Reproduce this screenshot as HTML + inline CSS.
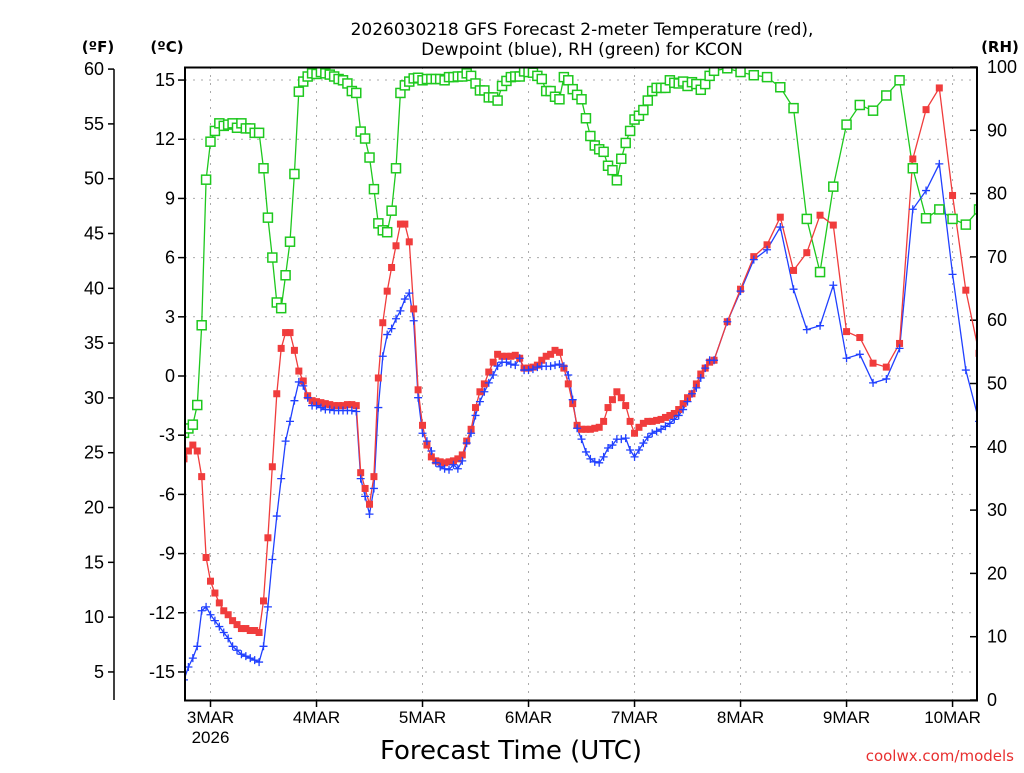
<!DOCTYPE html>
<html><head><meta charset="utf-8"><style>
body{margin:0;background:#fff;}
svg text{font-family:"DejaVu Sans","Liberation Sans",sans-serif;}
svg text.tick{font-family:"Liberation Sans",sans-serif;}
</style></head><body>
<svg id="chart" width="1024" height="768" viewBox="0 0 1024 768" xmlns="http://www.w3.org/2000/svg">
<rect width="1024" height="768" fill="#fff"/>
<text x="582" y="35" font-size="17" text-anchor="middle">2026030218 GFS Forecast 2-meter Temperature (red),</text>
<text x="582" y="55" font-size="17" text-anchor="middle">Dewpoint (blue), RH (green) for KCON</text>
<text x="98" y="52" font-size="15" font-weight="bold" text-anchor="middle">(ºF)</text>
<text x="167" y="52" font-size="15" font-weight="bold" text-anchor="middle">(ºC)</text>
<text x="1000" y="52" font-size="15" font-weight="bold" text-anchor="middle">(RH)</text>
<text x="511" y="759" font-size="26" text-anchor="middle">Forecast Time (UTC)</text>
<text x="1014" y="761" font-size="15" fill="#e83030" text-anchor="end">coolwx.com/models</text>
<g id="grid"></g>
<g id="axes"></g>
<g id="series" clip-path="url(#clip)"></g>
<defs><clipPath id="clip"><rect x="185" y="67" width="793" height="634"/></clipPath></defs>
<rect x="185" y="67.5" width="792" height="633" fill="none" stroke="#000" stroke-width="2"/>
</svg>
<script>
const tempC = [-4.2,-3.8,-3.5,-3.8,-5.1,-9.2,-10.4,-11.0,-11.5,-11.9,-12.1,-12.4,-12.6,-12.8,-12.8,-12.9,-12.9,-13.0,-11.4,-8.2,-4.6,-0.9,1.4,2.2,2.2,1.3,0.25,-0.25,-1.0,-1.25,-1.3,-1.35,-1.4,-1.45,-1.5,-1.5,-1.5,-1.45,-1.45,-1.5,-4.9,-5.7,-6.5,-5.1,-0.1,2.7,4.3,5.5,6.6,7.7,7.7,6.8,3.4,-0.7,
-2.5,-3.5,-4.1,-4.3,-4.35,-4.4,-4.35,-4.3,-4.2,-4.0,-3.3,-2.7,-1.6,-0.8,-0.4,0.2,0.7,1.1,1.0,1.0,1.0,1.05,0.9,0.4,0.4,0.45,0.55,0.8,1.0,1.1,1.3,1.2,0.4,-0.4,-1.4,-2.5,-2.7,-2.7,-2.7,-2.65,-2.6,-2.3,-1.6,-1.2,-0.8,-1.1,-1.5,-2.3,-2.9,-2.6,-2.4,-2.3,-2.3,-2.25,-2.2,-2.1,-2.0,-1.9,-1.7,-1.4,-1.1,-0.9,-0.4,0.1,0.4,0.7,0.8,
2.75,4.4,6.05,6.65,8.05,5.35,6.25,8.15,7.65,2.25,1.95,0.65,0.45,1.65,11.0,13.5,14.6,9.15,4.35,1.15];
const dewC = [-15.4,-14.75,-14.3,-13.7,-11.9,-11.7,-12.1,-12.4,-12.7,-13.0,-13.3,-13.7,-13.9,-14.1,-14.2,-14.3,-14.4,-14.5,-13.7,-11.7,-9.3,-7.1,-5.2,-3.3,-2.3,-1.25,-0.3,-0.5,-1.1,-1.5,-1.5,-1.6,-1.7,-1.7,-1.75,-1.75,-1.75,-1.75,-1.75,-1.8,-5.2,-6.1,-7.0,-5.7,-1.6,1.0,2.1,2.4,2.9,3.3,3.9,4.2,2.8,-1.1,
-2.9,-3.3,-3.8,-4.4,-4.6,-4.7,-4.75,-4.5,-4.7,-4.3,-3.4,-2.9,-2.0,-1.3,-0.8,-0.35,0.05,0.5,0.7,0.7,0.6,0.55,0.9,0.3,0.3,0.35,0.45,0.5,0.5,0.5,0.55,0.6,0.5,0.05,-1.2,-2.65,-3.2,-3.85,-4.2,-4.35,-4.4,-4.1,-3.65,-3.5,-3.2,-3.2,-3.15,-3.75,-4.1,-3.75,-3.4,-3.1,-2.9,-2.8,-2.7,-2.55,-2.4,-2.2,-2.0,-1.7,-1.3,-0.9,-0.6,-0.1,0.4,0.8,0.8,
2.75,4.3,5.9,6.4,7.55,4.4,2.35,2.55,4.6,0.9,1.1,-0.35,-0.15,1.4,8.45,9.4,10.75,5.15,0.3,-2.3];
const rhPct = [42.2,42.9,43.5,46.6,59.2,82.2,88.2,89.9,91.1,90.7,90.9,91.1,90.4,91.1,90.3,90.3,89.6,89.6,84,76.2,69.9,62.8,61.9,67.1,72.4,83.1,96.1,97.7,98.5,99,98.9,99.2,99.0,98.8,98.5,98.1,97.9,97.4,96.2,95.9,89.8,88.7,85.7,80.7,75.3,74.2,73.9,77.3,84,95.9,97.1,97.7,98.2,98.3,
97.9,98.1,98.1,98.1,98.1,97.9,98.4,98.4,98.5,98.5,99,98.6,97.4,96.3,96.3,95.2,95.2,94.7,97,97.8,98.4,98.5,98.5,99.3,99.2,99.1,98.6,98.1,96.2,96.2,95.3,94.9,98.4,97.9,96.5,95.6,94.9,91.9,89.1,87.6,87,86.6,84.4,83.7,82.1,85.5,88,89.9,91.7,92.3,93.2,94.7,96.2,96.7,96.7,96.7,97.9,97.5,97.4,97.7,97,97.6,97.3,96.4,97.3,98.6,99.4,
99.8,99.2,98.7,98.4,96.8,93.5,76,67.6,81.1,90.9,94.0,93.1,95.5,97.9,84,76.1,77.5,76,75.1,77.5];
const dayLabels = ["3MAR","4MAR","5MAR","6MAR","7MAR","8MAR","9MAR","10MAR"];
const dayHours = [6,30,54,78,102,126,150,174];
const cTicks = [-15,-12,-9,-6,-3,0,3,6,9,12,15];
const fTicks = [5,10,15,20,25,30,35,40,45,50,55,60];
const rhTicks = [0,10,20,30,40,50,60,70,80,90,100];

const NS="http://www.w3.org/2000/svg";
function hours(){const h=[];for(let i=0;i<=120;i++)h.push(i);for(let i=123;i<=180;i+=3)h.push(i);return h;}
const fh = hours();
const xS = h => 184 + h*4.417;
const yC = c => 376 - c*19.73;
const yF = f => yC((f-32)*5/9);
const yR = r => 700 - r*6.33;
function mk(tag,attrs,parent){const e=document.createElementNS(NS,tag);for(const k in attrs)e.setAttribute(k,attrs[k]);parent.appendChild(e);return e;}
const grid=document.getElementById('grid'),axes=document.getElementById('axes'),series=document.getElementById('series');

cTicks.forEach(c=>{
  const g=mk('line',{x1:185,x2:977,y1:yC(c),y2:yC(c),stroke:'#aaa','stroke-dasharray':'2 6'},grid);
  
  
  mk('line',{x1:178,x2:185,y1:yC(c),y2:yC(c),stroke:'#000','stroke-width':1.5},axes);
  const t=mk('text',{class:'tick',x:175,y:yC(c)+6,'font-size':18,'text-anchor':'end'},axes);t.textContent=c;
  
  
});
mk('line',{x1:114,x2:114,y1:yF(60),y2:700,stroke:'#000','stroke-width':1.5},axes);
fTicks.forEach(f=>{
  mk('line',{x1:108,x2:114,y1:yF(f),y2:yF(f),stroke:'#000','stroke-width':1.5},axes);
  const t=mk('text',{class:'tick',x:104,y:yF(f)+6,'font-size':18,'text-anchor':'end'},axes);t.textContent=f;
  
  
});
rhTicks.forEach(r=>{
  mk('line',{x1:970,x2:977,y1:yR(r),y2:yR(r),stroke:'#000','stroke-width':1.5},axes);
  const t=mk('text',{class:'tick',x:987,y:yR(r)+6,'font-size':18,'text-anchor':'start'},axes);t.textContent=r;
  
  
});
dayHours.forEach((h,i)=>{
  const x=xS(h);
  const g=mk('line',{x1:x,x2:x,y1:67,y2:700,stroke:'#aaa','stroke-dasharray':'2 6'},grid);
  
  
  mk('line',{x1:x,x2:x,y1:700,y2:707,stroke:'#000','stroke-width':1.5},axes);
  const t=mk('text',{class:'tick',x:x,y:723,'font-size':17,'text-anchor':'middle'},axes);t.textContent=dayLabels[i];
  
  
});
const yr=mk('text',{class:'tick',x:xS(dayHours[0]),y:743,'font-size':17,'text-anchor':'middle'},axes);yr.textContent='2026';



function line(vals,yf,color,name){
  const d=vals.map((v,i)=>(i?'L':'M')+xS(fh[i]).toFixed(1)+' '+yf(v).toFixed(1)).join(' ');
  const p=mk('path',{d:d,fill:'none',stroke:color,'stroke-width':1.3},series);
  
  
}
line(rhPct,yR,'#1ec81e','rh-line');
line(dewC,yC,'#2040ff','dewpoint-line');
line(tempC,yC,'#f03c3c','temperature-line');
rhPct.forEach((v,i)=>{
  const r=mk('rect',{x:xS(fh[i])-4.5,y:yR(v)-4.5,width:9,height:9,fill:'#fff',stroke:'#1ec81e','stroke-width':1.5},series);
  
  
});
tempC.forEach((v,i)=>{
  const r=mk('rect',{x:xS(fh[i])-3.5,y:yC(v)-3.5,width:7,height:7,fill:'#f03c3c'},series);
  
  
});
dewC.forEach((v,i)=>{
  const x=xS(fh[i]),y=yC(v);
  const p=mk('path',{d:`M${x-4} ${y}H${x+4}M${x} ${y-4}V${y+4}`,stroke:'#2040ff','stroke-width':1.3},series);
  
  
});
</script>
</body></html>
